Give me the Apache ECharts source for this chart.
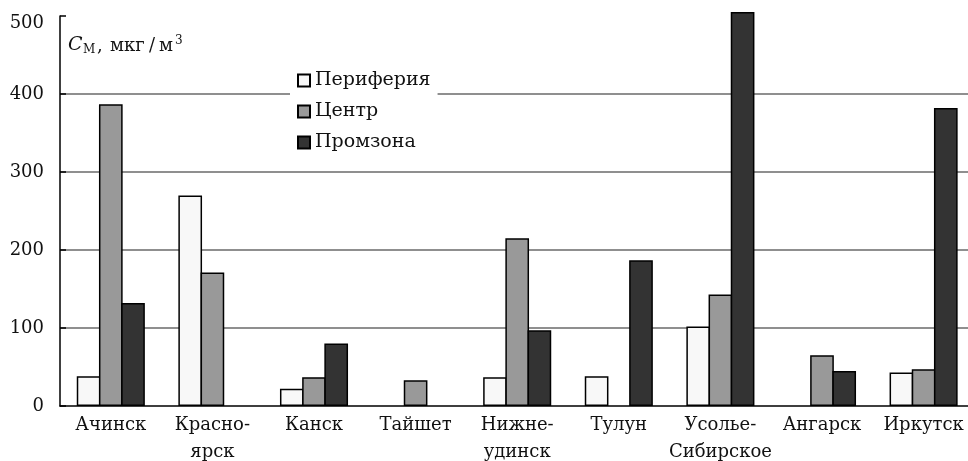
<!DOCTYPE html>
<html>
<head>
<meta charset="utf-8">
<script src="https://cdn.jsdelivr.net/npm/echarts@6/dist/echarts.min.js"></script>
<style>html,body{margin:0;padding:0;background:#fff}#c{width:968px;height:461px}</style>
</head>
<body>
<div id="c"></div>
<script>
const categories = ['Ачинск', 'Красно-\nярск', 'Канск', 'Тайшет', 'Нижне-\nудинск', 'Тулун', 'Усолье-\nСибирское', 'Ангарск', 'Иркутск'];
const periphery = [38, 270, 22, null, 37, 38, 102, null, 43];
const center = [387, 171, 37, 33, 215, null, 143, 65, 47];
const industrial = [132, null, 80, null, 97, 187, 505, 45, 382];
const yTicks = [0, 100, 200, 300, 400, 500];

const FONT = 'DejaVu Serif';
const chart = echarts.init(document.getElementById('c'));
const barBase = {
  type: 'bar',
  barGap: '-6.3%',
  barCategoryGap: '33%',
  clip: false,
  emphasis: {disabled: true}
};
const yMax = yTicks[yTicks.length - 1];
chart.setOption({
  animation: false,
  backgroundColor: '#fff',
  textStyle: {fontFamily: FONT},
  grid: {left: 60, right: -6.4, top: 16, bottom: 55, containLabel: false, outerBoundsMode: 'none'},
  legend: {
    orient: 'vertical',
    left: 290,
    top: 66,
    backgroundColor: '#fff',
    padding: [5, 7, 5, 7],
    itemWidth: 12,
    itemHeight: 12,
    itemGap: 12,
    icon: 'rect',
    textStyle: {fontFamily: FONT, fontSize: 19, color: '#111', lineHeight: 19},
    data: ['Периферия', 'Центр', 'Промзона']
  },
  xAxis: {
    type: 'category',
    data: categories,
    axisLine: {lineStyle: {color: '#000', width: 1.5}},
    axisTick: {inside: true, length: 6, lineStyle: {color: '#222', width: 1}},
    axisLabel: {fontFamily: FONT, fontSize: 18, color: '#111', lineHeight: 27, margin: 6, interval: 0, hideOverlap: false}
  },
  yAxis: {
    type: 'value',
    min: yTicks[0],
    max: yMax,
    interval: 100,
    axisLine: {show: true, lineStyle: {color: '#000', width: 1.5}},
    axisTick: {show: true, inside: true, length: 6, lineStyle: {color: '#000', width: 1.5}},
    axisLabel: {
      fontFamily: FONT, fontSize: 18, color: '#111', margin: 16,
      formatter: v => v === yMax ? '{top|' + v + '}' : String(v),
      rich: {top: {fontFamily: FONT, fontSize: 18, color: '#111', padding: [14, 0, 0, 0]}}
    },
    splitLine: {show: true, showMaxLine: false, showMinLine: false, lineStyle: {color: '#6a6a6a', width: 1.5}}
  },
  graphic: [
    {type: 'text', left: 68, top: 36, style: {text: 'C', font: 'italic 19px "DejaVu Serif"', fill: '#111'}},
    {type: 'text', left: 83, top: 43.5, style: {text: 'М', font: '12px "DejaVu Serif"', fill: '#111'}},
    {type: 'text', left: 97, top: 37, style: {text: ',', font: '18px "DejaVu Serif"', fill: '#111'}},
    {type: 'text', left: 110, top: 37, style: {text: 'мкг', font: '18px "DejaVu Serif"', fill: '#111'}},
    {type: 'text', left: 149, top: 37, style: {text: '/', font: '18px "DejaVu Serif"', fill: '#111'}},
    {type: 'text', left: 159, top: 37, style: {text: 'м', font: '18px "DejaVu Serif"', fill: '#111'}},
    {type: 'text', left: 175, top: 35, style: {text: '3', font: '12px "DejaVu Serif"', fill: '#111'}}
  ],
  series: [
    Object.assign({}, barBase, {name: 'Периферия', data: periphery, itemStyle: {color: '#f8f8f8', borderColor: '#000', borderWidth: 1.5}}),
    Object.assign({}, barBase, {name: 'Центр', data: center, itemStyle: {color: '#999999', borderColor: '#000', borderWidth: 1.5}}),
    Object.assign({}, barBase, {name: 'Промзона', data: industrial, itemStyle: {color: '#333333', borderColor: '#000', borderWidth: 1.5}})
  ]
});
</script>
</body>
</html>
